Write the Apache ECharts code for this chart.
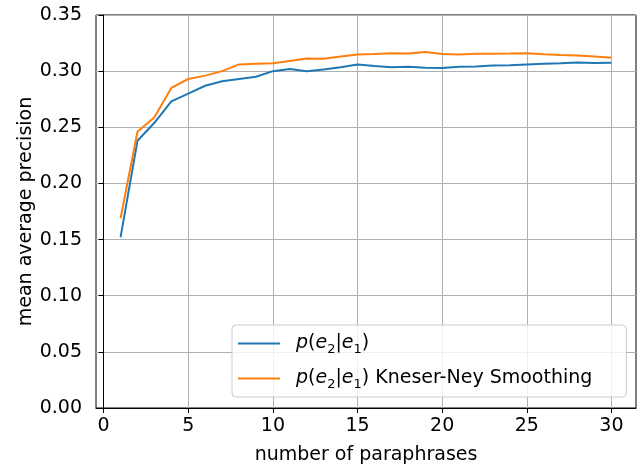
<!DOCTYPE html>
<html>
<head>
<meta charset="utf-8">
<script src="https://cdn.jsdelivr.net/npm/echarts@6/dist/echarts.min.js"></script>
<style>
  html, body { margin: 0; padding: 0; background: #fff; }
  #main { width: 641px; height: 465px; }
</style>
</head>
<body>
<div id="main"></div>
<script>
// number of paraphrases
var paraphrases = [1, 2, 3, 4, 5, 6, 7, 8, 9, 10, 11, 12, 13, 14, 15,
  16, 17, 18, 19, 20, 21, 22, 23, 24, 25, 26, 27, 28, 29, 30];
// p(e2|e1)
var plain = [0.152, 0.238, 0.254, 0.273, 0.280, 0.287, 0.291, 0.293, 0.295, 0.300,
  0.302, 0.300, 0.3015, 0.3035, 0.306, 0.3045, 0.3035, 0.304, 0.303, 0.3028,
  0.304, 0.3042, 0.305, 0.3053, 0.306, 0.3065, 0.307, 0.3077, 0.3072, 0.3074];
// p(e2|e1) Kneser-Ney Smoothing
var kneser = [0.169, 0.246, 0.259, 0.285, 0.293, 0.296, 0.300, 0.306, 0.3065, 0.307,
  0.309, 0.3112, 0.311, 0.313, 0.3149, 0.3152, 0.316, 0.3157, 0.317, 0.3152,
  0.3148, 0.3155, 0.3155, 0.3157, 0.316, 0.315, 0.3143, 0.314, 0.3131, 0.312];
var xTicks = [0, 5, 10, 15, 20, 25, 30];

var names = ['p(e2|e1)', 'p(e2|e1) Kneser-Ney Smoothing'];

var font = 'DejaVu Sans';
var fs = 19;
var chart = echarts.init(document.getElementById('main'));

function pairs(ys) {
  return paraphrases.map(function (x, i) { return [x, ys[i]]; });
}

var mathRich = {
  it: { fontFamily: font, fontSize: fs, fontStyle: 'italic', color: '#000' },
  itp: { fontFamily: font, fontSize: fs, fontStyle: 'italic', color: '#000', padding: [0, 0, 0, 11] },
  up: { fontFamily: font, fontSize: fs, color: '#000' },
  sub: { fontFamily: font, fontSize: 13, color: '#000', verticalAlign: 'bottom', padding: [7, 0, 0, 0] }
};

chart.setOption({
  animation: false,
  grid: {
    left: 96, right: 5, top: 15, bottom: 57,
    outerBoundsMode: 'none',
    show: true, borderColor: '#000', borderWidth: 1, backgroundColor: '#fff'
  },
  legend: {
    orient: 'vertical',
    left: 232, top: 325,
    data: names,
    icon: 'rect',
    itemWidth: 42, itemHeight: 2,
    itemGap: 10,
    padding: [6, 34, 6, 6],
    backgroundColor: 'rgba(255,255,255,0.8)',
    borderColor: '#cccccc', borderWidth: 1, borderRadius: 4,
    formatter: function (name) {
      var s = '{itp|p}{up|(}{it|e}{sub|2}{up||}{it|e}{sub|1}{up|)}';
      if (name !== names[0]) s += '{up| Kneser-Ney Smoothing}';
      return s;
    },
    textStyle: { rich: mathRich, fontSize: fs, fontFamily: font, lineHeight: 25 }
  },
  xAxis: {
    type: 'value',
    min: -0.45, max: 31.45,
    name: 'number of paraphrases',
    nameLocation: 'middle', nameGap: 38,
    nameMoveOverlap: false,
    nameTextStyle: { fontFamily: font, fontSize: fs, color: '#000' },
    axisLine: { show: true, lineStyle: { color: '#000', width: 1 } },
    axisTick: { show: true, length: 5, inside: false, customValues: xTicks, lineStyle: { color: '#000' } },
    axisLabel: { customValues: xTicks, fontFamily: font, fontSize: fs, color: '#000', margin: 9 },
    splitLine: { show: true, lineStyle: { color: '#b0b0b0', width: 1 } }
  },
  yAxis: {
    type: 'value',
    min: 0, max: 0.35, interval: 0.05,
    name: 'mean average precision',
    nameLocation: 'middle', nameGap: 60,
    nameMoveOverlap: false,
    nameTextStyle: { fontFamily: font, fontSize: fs, color: '#000' },
    axisLine: { show: true, lineStyle: { color: '#000', width: 1 } },
    axisTick: { show: true, length: 5, lineStyle: { color: '#000' } },
    axisLabel: {
      fontFamily: font, fontSize: fs, color: '#000', margin: 14,
      formatter: function (v) { return v.toFixed(2); }
    },
    splitLine: { show: true, lineStyle: { color: '#b0b0b0', width: 1 } }
  },
  series: [
    {
      name: names[0], type: 'line', data: pairs(plain),
      symbol: 'none', color: '#1f77b4',
      lineStyle: { width: 2, color: '#1f77b4' }
    },
    {
      name: names[1], type: 'line', data: pairs(kneser),
      symbol: 'none', color: '#ff7f0e',
      lineStyle: { width: 2, color: '#ff7f0e' }
    }
  ]
});
</script>
</body>
</html>
